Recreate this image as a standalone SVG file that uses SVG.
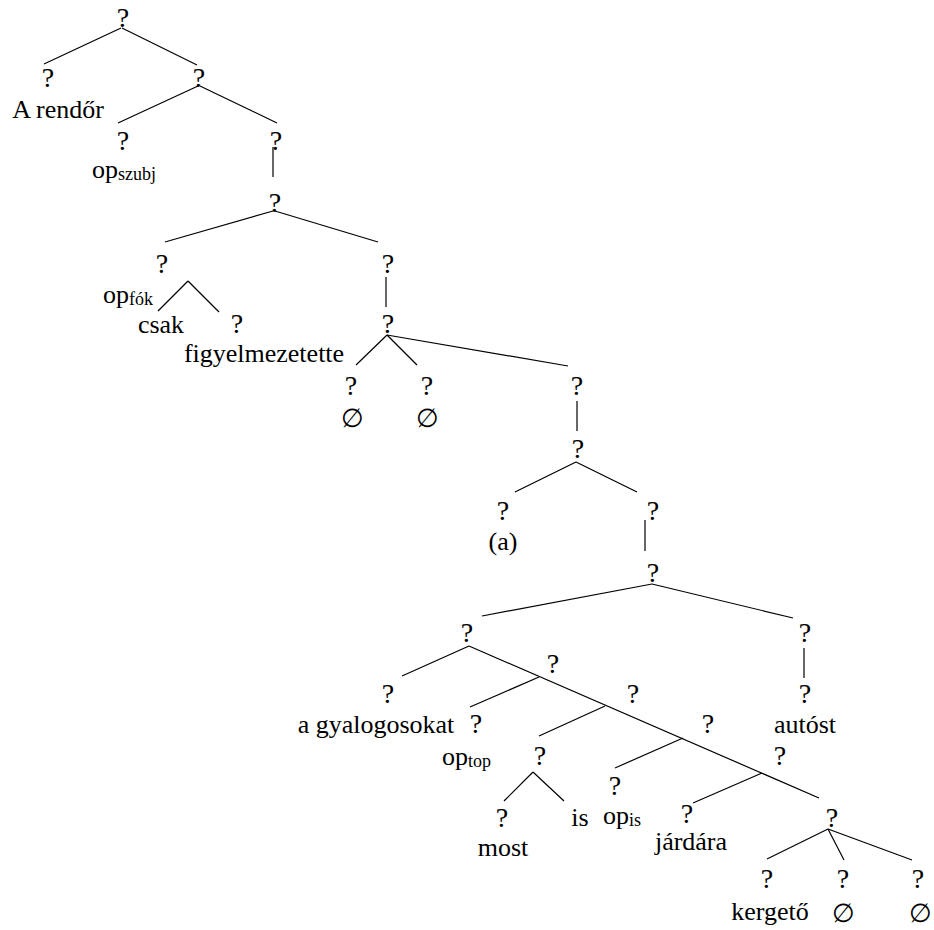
<svg xmlns="http://www.w3.org/2000/svg" width="934" height="930" viewBox="0 0 934 930">
<style>
text{font-family:"Liberation Serif","Times New Roman",serif;font-size:26px;fill:#000;text-anchor:middle}
.q{font-size:28px}
.s{font-size:18px}
.l{text-anchor:start}
#connectors line{stroke:#000;stroke-width:1.2}
</style>
<rect width="934" height="930" fill="#fff"/>
<g id="connectors">
<line x1="121" y1="28" x2="44" y2="64"/>
<line x1="122" y1="28" x2="197" y2="65"/>
<line x1="198" y1="86" x2="118" y2="123"/>
<line x1="200" y1="86" x2="277" y2="123"/>
<line x1="273" y1="147" x2="273" y2="177"/>
<line x1="273" y1="211" x2="165" y2="242"/>
<line x1="275" y1="211" x2="378" y2="242"/>
<line x1="188" y1="281" x2="158" y2="311"/>
<line x1="188" y1="281" x2="219" y2="312"/>
<line x1="386" y1="277" x2="386" y2="307"/>
<line x1="387" y1="335" x2="356" y2="365"/>
<line x1="387" y1="335" x2="417" y2="365"/>
<line x1="387" y1="335" x2="568" y2="366"/>
<line x1="577" y1="401" x2="577" y2="431"/>
<line x1="576" y1="462" x2="515" y2="492"/>
<line x1="576" y1="462" x2="637" y2="492"/>
<line x1="645" y1="520" x2="645" y2="551"/>
<line x1="652" y1="584" x2="482" y2="616"/>
<line x1="652" y1="584" x2="793" y2="618"/>
<line x1="469" y1="646" x2="402" y2="676"/>
<line x1="469" y1="646" x2="819" y2="798"/>
<line x1="539" y1="677" x2="470" y2="707"/>
<line x1="605" y1="706" x2="539" y2="736"/>
<line x1="533" y1="772" x2="504" y2="801"/>
<line x1="533" y1="772" x2="564" y2="801"/>
<line x1="683" y1="738" x2="615" y2="768"/>
<line x1="762" y1="773" x2="693" y2="803"/>
<line x1="804" y1="648" x2="804" y2="678"/>
<line x1="828" y1="829" x2="767" y2="859"/>
<line x1="828" y1="829" x2="844" y2="860"/>
<line x1="828" y1="829" x2="912" y2="860"/>
</g>
<g id="n-root"><text class="q" x="123" y="27">?</text></g>
<g id="n-arendor"><text class="q" x="48" y="87">?</text><text x="58" y="118">A rendőr</text></g>
<g id="n-b"><text class="q" x="199" y="87">?</text></g>
<g id="n-opszubj"><text class="q" x="123" y="150">?</text><text class="l" x="92" y="178">op<tspan class="s" dy="2">szubj</tspan></text></g>
<g id="n-b2"><text class="q" x="276" y="150">?</text></g>
<g id="n-c"><text class="q" x="275" y="212">?</text></g>
<g id="n-d"><text class="q" x="162" y="273">?</text><text class="l" x="103" y="303">op<tspan class="s" dy="2">fók</tspan></text></g>
<g id="n-csak"><text x="161" y="333">csak</text></g>
<g id="n-figy"><text class="q" x="237" y="333">?</text><text x="264" y="362">figyelmezetette</text></g>
<g id="n-e"><text class="q" x="388" y="273">?</text></g>
<g id="n-f"><text class="q" x="388" y="333">?</text></g>
<g id="n-e1"><text class="q" x="351" y="395">?</text><text x="352" y="427">∅</text></g>
<g id="n-e2"><text class="q" x="427" y="395">?</text><text x="427" y="427">∅</text></g>
<g id="n-g"><text class="q" x="577" y="395">?</text></g>
<g id="n-h"><text class="q" x="578" y="458">?</text></g>
<g id="n-a"><text class="q" x="503" y="520">?</text><text x="503" y="550">(a)</text></g>
<g id="n-i"><text class="q" x="653" y="520">?</text></g>
<g id="n-j"><text class="q" x="653" y="582">?</text></g>
<g id="n-k"><text class="q" x="467" y="642">?</text></g>
<g id="n-gyal"><text class="q" x="388" y="703">?</text><text x="376" y="733">a gyalogosokat</text></g>
<g id="n-l"><text class="q" x="553" y="673">?</text></g>
<g id="n-optop"><text class="q" x="476" y="733">?</text><text class="l" x="442" y="765">op<tspan class="s" dy="2">top</tspan></text></g>
<g id="n-m"><text class="q" x="633" y="703">?</text></g>
<g id="n-mostis"><text class="q" x="540" y="765">?</text></g>
<g id="n-most"><text class="q" x="502" y="827">?</text><text x="503" y="856">most</text></g>
<g id="n-is"><text x="580" y="826">is</text></g>
<g id="n-o"><text class="q" x="708" y="733">?</text></g>
<g id="n-opis"><text class="q" x="615" y="795">?</text><text class="l" x="603" y="824">op<tspan class="s" dy="2">is</tspan></text></g>
<g id="n-p"><text class="q" x="780" y="765">?</text></g>
<g id="n-jardara"><text class="q" x="687" y="823">?</text><text x="691" y="850">járdára</text></g>
<g id="n-n"><text class="q" x="805" y="642">?</text></g>
<g id="n-autost"><text class="q" x="805" y="703">?</text><text x="805" y="733">autóst</text></g>
<g id="n-q"><text class="q" x="832" y="827">?</text></g>
<g id="n-kerg"><text class="q" x="767" y="888">?</text><text x="770" y="920">kergető</text></g>
<g id="n-e3"><text class="q" x="843" y="888">?</text><text x="843" y="922">∅</text></g>
<g id="n-e4"><text class="q" x="918" y="888">?</text><text x="920" y="922">∅</text></g>
</svg>
